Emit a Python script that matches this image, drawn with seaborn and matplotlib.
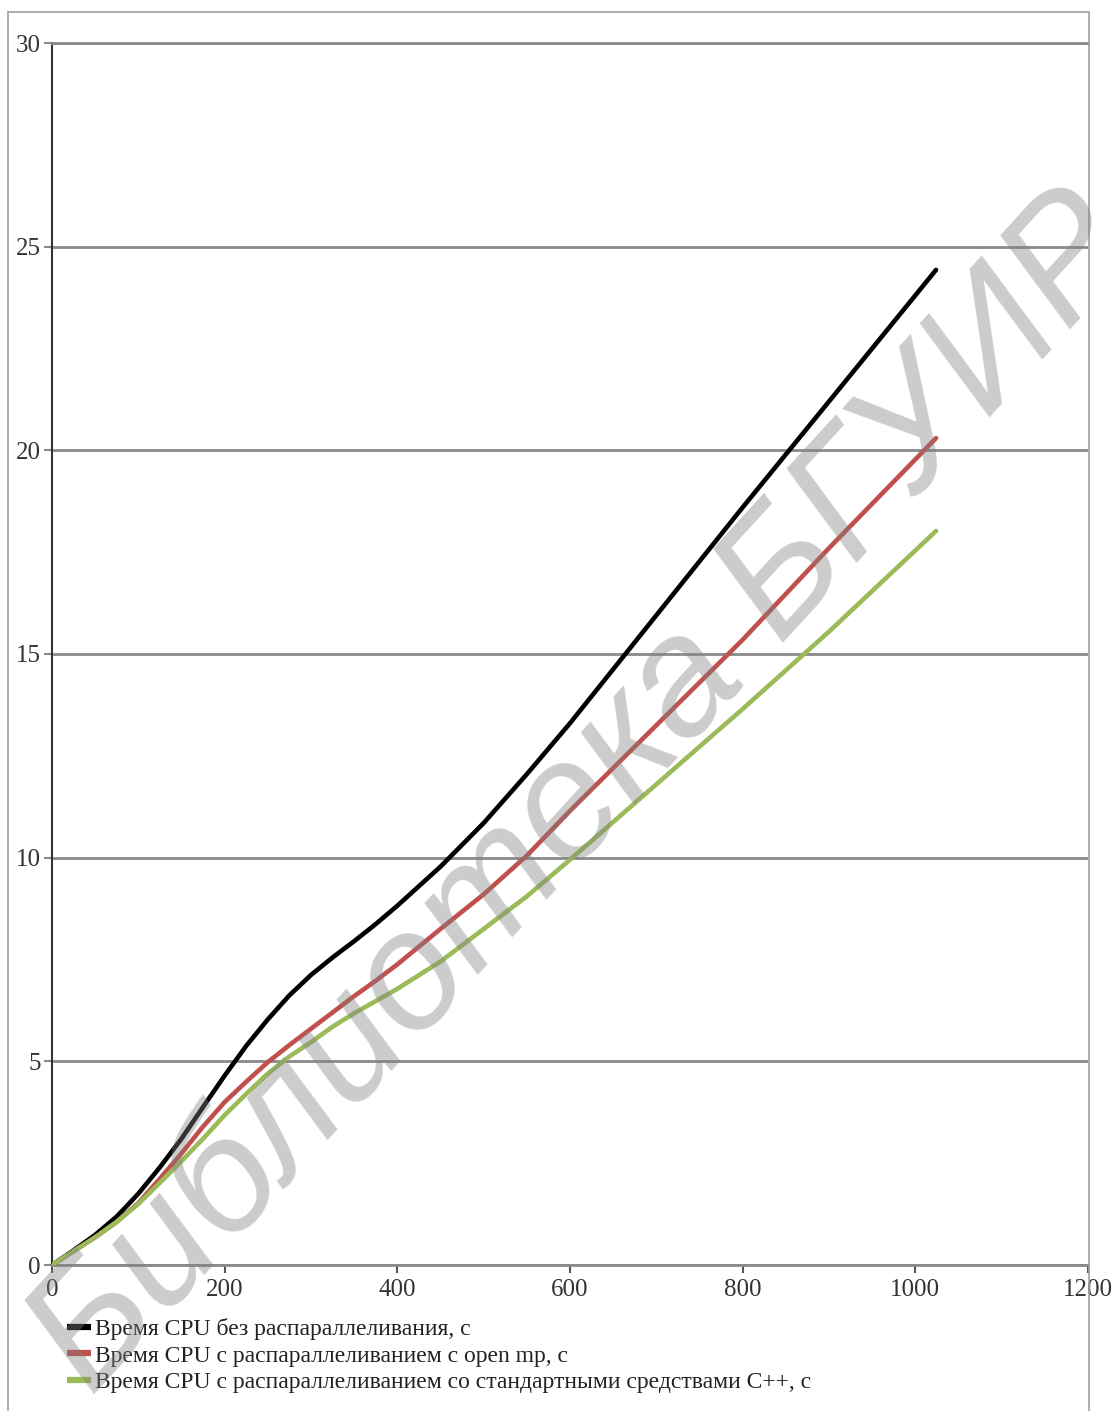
import numpy as np
import pandas as pd
import seaborn as sns
import matplotlib.pyplot as plt
from matplotlib.lines import Line2D

# values
x_vals = [0, 25, 50, 75, 100, 125, 150, 175, 200, 225, 250, 275, 300,
          325, 350, 375, 400, 450, 500, 550, 600, 700, 800, 900, 1024]
cpu_serial = [0, 0.36, 0.74, 1.19, 1.75, 2.4, 3.1, 3.88, 4.65, 5.38, 6.03, 6.62, 7.12,
              7.55, 7.95, 8.37, 8.82, 9.78, 10.85, 12.05, 13.3, 15.95, 18.6, 21.2, 24.43]
cpu_openmp = [0, 0.34, 0.68, 1.06, 1.52, 2.12, 2.74, 3.4, 4.0, 4.5, 4.98, 5.4, 5.8,
              6.2, 6.6, 6.98, 7.38, 8.25, 9.1, 10.05, 11.15, 13.25, 15.35, 17.6, 20.3]
cpu_std = [0, 0.34, 0.68, 1.06, 1.5, 2.02, 2.55, 3.1, 3.68, 4.2, 4.7, 5.12, 5.47,
           5.85, 6.18, 6.48, 6.78, 7.45, 8.25, 9.05, 9.95, 11.8, 13.65, 15.55, 18.02]

labels = ['Время CPU без распараллеливания, с',
          'Время CPU с распараллеливанием с open mp, с',
          'Время CPU с распараллеливанием со стандартными средствами С++, с']
colors = ['#000000', '#c0504d', '#9bbb59']

df = pd.concat([
    pd.DataFrame({'n': x_vals, 't': cpu_serial, 'series': labels[0]}),
    pd.DataFrame({'n': x_vals, 't': cpu_openmp, 'series': labels[1]}),
    pd.DataFrame({'n': x_vals, 't': cpu_std, 'series': labels[2]}),
])

sns.set_style('white')
plt.rcParams['font.family'] = ['Liberation Serif', 'DejaVu Serif']

fig = plt.figure(figsize=(11.16, 14.11), dpi=100)
ax = fig.add_axes([52/1116, 146/1411, 1036/1116, 1222/1411])

sns.lineplot(data=df, x='n', y='t', hue='series', palette=colors,
             linewidth=3.3, ax=ax, legend=False, zorder=3,
             solid_joinstyle='round', solid_capstyle='round')

ax.set_xlim(0, 1200)
ax.set_ylim(0, 30)
ax.set_xticks(range(0, 1201, 200))
ax.set_yticks(range(0, 31, 5))
ax.set_xlabel('')
ax.set_ylabel('')
ax.yaxis.grid(True, color='#8a8a8a', linewidth=2)
ax.xaxis.grid(False)
ax.set_axisbelow(True)

ax.spines['left'].set_color('#333333')
ax.spines['left'].set_linewidth(1.5)
ax.spines['bottom'].set_color('#8a8a8a')
ax.spines['bottom'].set_linewidth(2)
ax.spines['top'].set_color('#8a8a8a')
ax.spines['top'].set_linewidth(2)
ax.spines['right'].set_visible(False)

ax.tick_params(axis='y', length=6, width=1.5, color='#8a8a8a', pad=2,
               labelsize=18, labelcolor='#333333', left=True)
ax.tick_params(axis='x', length=6, width=1.5, color='#555555', pad=4,
               labelsize=18, labelcolor='#333333', bottom=True)

handles = [Line2D([], [], color=c, linewidth=4.5, solid_capstyle='butt') for c in colors]
ax.legend(handles, labels, loc='upper left', bbox_to_anchor=(67/1116, 1 - 1318/1411),
          bbox_transform=fig.transFigure, frameon=False, fontsize=17,
          handlelength=1.0, handletextpad=0.2, labelspacing=0.22,
          borderpad=0, borderaxespad=0, labelcolor='#222222')

# outer frame of the chart
frame = dict(color='#a0a0a0', linewidth=1.2, transform=fig.transFigure)
fig.add_artist(Line2D([8/1116, 8/1116], [0, 1 - 12/1411], **frame))
fig.add_artist(Line2D([8/1116, 1089/1116], [1 - 12/1411, 1 - 12/1411], **frame))
fig.add_artist(Line2D([1089/1116, 1089/1116], [0, 1 - 12/1411], **frame))

# watermark
fig.text(585/1116, 1 - 795/1411, 'Библиотека БГУИР', rotation=47.5,
         ha='center', va='center', fontsize=120, color='gray', alpha=0.4,
         family=['Liberation Sans', 'DejaVu Sans'], style='italic', zorder=10,
         rotation_mode='anchor')

fig.savefig('out.png', dpi=100)
